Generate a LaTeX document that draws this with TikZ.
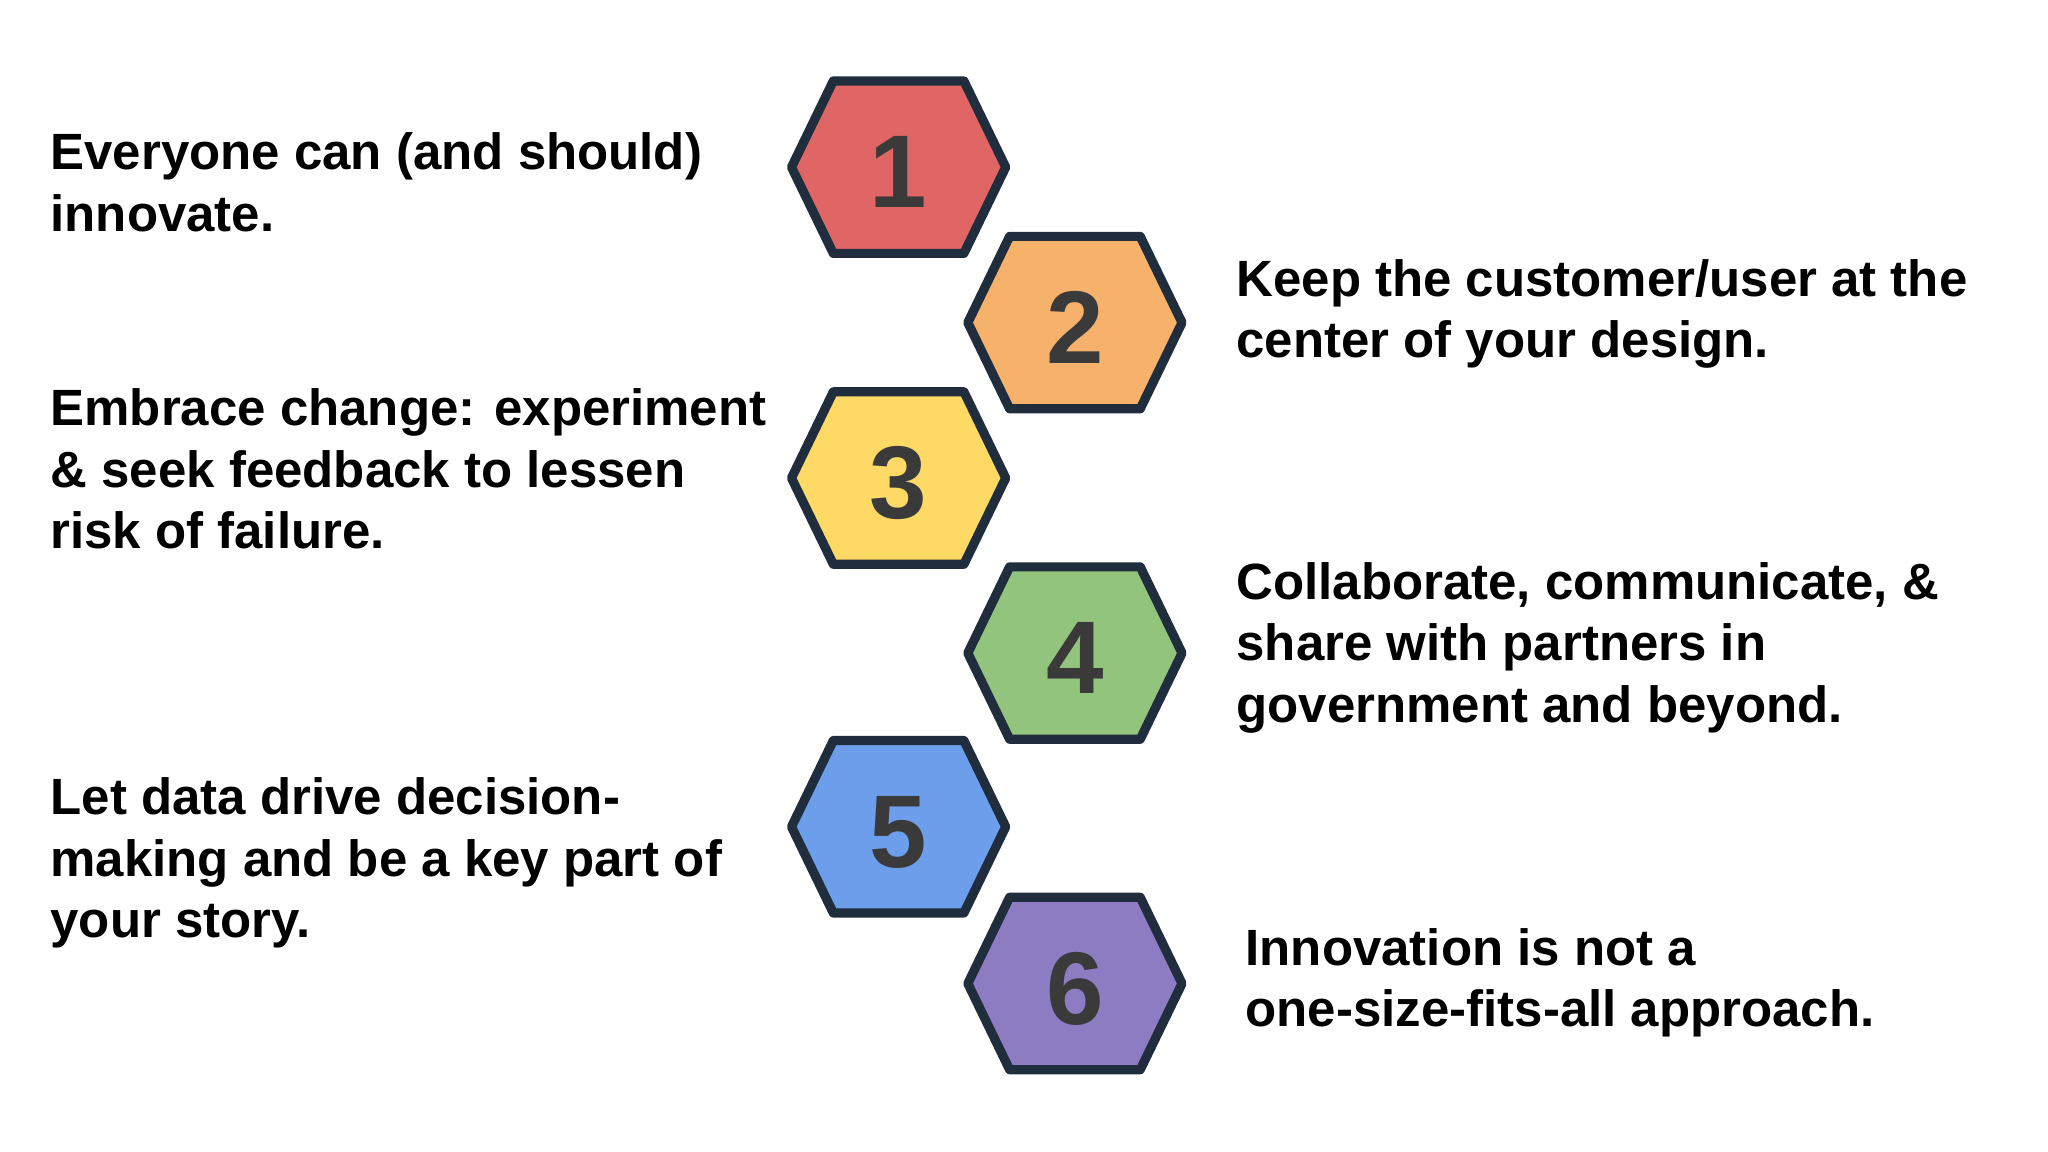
\documentclass[tikz,border=0pt]{standalone}
\usepackage{fontspec}
\setmainfont{Liberation Sans}
\begin{document}
\begin{tikzpicture}[x=0.01cm,y=-0.01cm]
\useasboundingbox[fill=white] (0,0) rectangle (1568,882);
\tikzset{
 hexa/.style={draw=hexline,line width=2pt,line join=round},
 num/.style={font=\fontsize{22.5}{22.5}\selectfont\bfseries,text=numgray},
 txt/.style={font=\fontsize{11.1}{13.4}\selectfont\bfseries,align=left,anchor=base west,inner sep=0pt}
}
\definecolor{hexline}{HTML}{1F2D3D}
\definecolor{numgray}{HTML}{3A3A3A}
\definecolor{c1}{HTML}{E06666}
\definecolor{c2}{HTML}{F6B26B}
\definecolor{c3}{HTML}{FFD966}
\definecolor{c4}{HTML}{93C47D}
\definecolor{c5}{HTML}{6D9EEB}
\definecolor{c6}{HTML}{8E7CC3}
\foreach \i/\cx/\cy in {1/688/128,2/823/247,3/688/366,4/823/500,5/688/633,6/823/753}{
 \draw[hexa,fill=c\i] (\cx-82,\cy) -- (\cx-50,\cy-66) -- (\cx+50,\cy-66) -- (\cx+82,\cy) -- (\cx+50,\cy+66) -- (\cx-50,\cy+66) -- cycle;
 \node[num] (n\i) at (\cx,\cy+4) {\i};
}
\node[txt] (t1) at (38,177) {Everyone can (and should)\\innovate.};
\node[txt] (t2) at (946,274) {Keep the customer/user at the\\center of your design.};
\node[txt] (t3) at (38,420) {Embrace change: experiment\\\& seek feedback to lessen\\risk of failure.};
\node[txt] (t4) at (946,553) {Collaborate, communicate, \&\\share with partners in\\government and beyond.};
\node[txt] (t5) at (38,718) {Let data drive decision-\\making and be a key part of\\your story.};
\node[txt] (t6) at (953,786) {Innovation is not a\\one-size-fits-all approach.};
\end{tikzpicture}
\end{document}
